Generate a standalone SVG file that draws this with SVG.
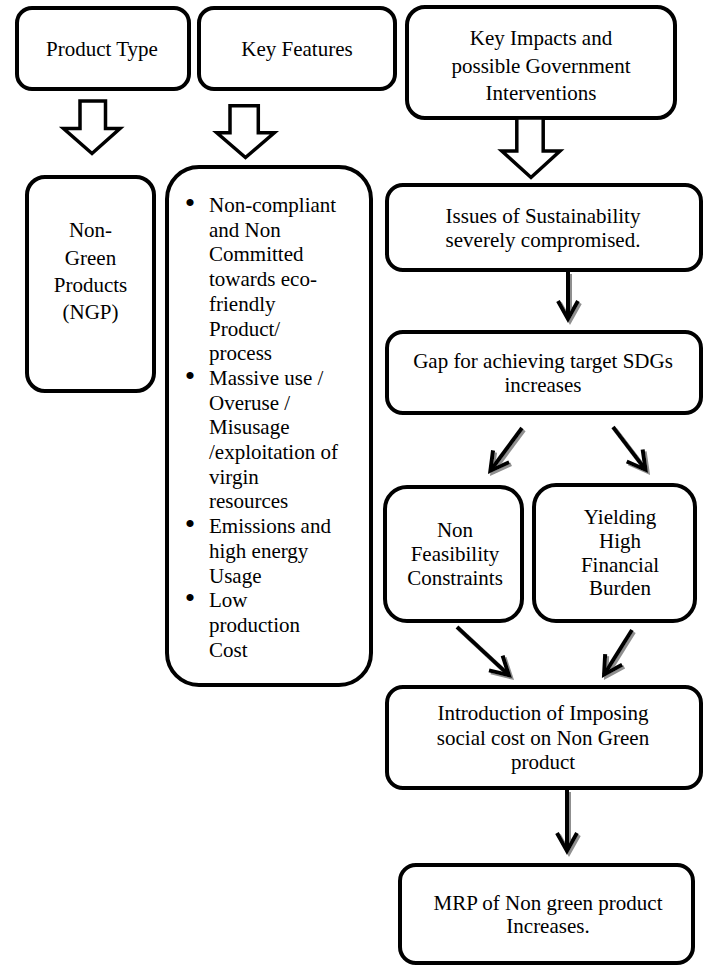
<svg xmlns="http://www.w3.org/2000/svg" width="711" height="966" viewBox="0 0 711 966">
  <style>
    .box { fill: #fff; stroke: #000; stroke-width: 4; }
    text { font-family: 'Liberation Serif', 'Times New Roman', serif; font-size: 21px; fill: #000; }
    .lbl { text-anchor: middle; }
    .dot { text-anchor: middle; font-size: 30px; }
    .block { fill: #fff; stroke: #000; stroke-width: 3.5; stroke-linejoin: miter; }
    .thin { fill: none; stroke: #000; stroke-width: 4; marker-end: url(#chev); }
  </style>
  <defs>
    <!-- open chevron head for the thin connectors -->
    <marker id="chev" markerUnits="userSpaceOnUse" viewBox="-30 -15 40 30" markerWidth="40" markerHeight="30" refX="0" refY="0" orient="auto" overflow="visible">
      <path d="M-18,-10 L0,0 L-18,10" fill="none" stroke="#000" stroke-width="4" stroke-linejoin="miter"/>
    </marker>
    <filter id="shadow" filterUnits="userSpaceOnUse" x="0" y="0" width="711" height="966">
      <feDropShadow dx="2" dy="2" stdDeviation="0.6" flood-color="#7a7a7a" flood-opacity="0.85"/>
    </filter>
  </defs>

  <rect width="711" height="966" fill="#fff"/>

  <!-- column headers -->
  <g id="product-type">
    <rect class="box" x="17" y="8" width="172" height="81" rx="15"/>
    <text class="lbl" x="102" y="56">Product Type</text>
  </g>
  <g id="key-features">
    <rect class="box" x="199" y="8" width="196" height="81" rx="15"/>
    <text class="lbl" x="297" y="56">Key Features</text>
  </g>
  <g id="key-impacts">
    <rect class="box" x="407" y="7" width="268" height="111" rx="18"/>
    <text class="lbl" x="541" y="45">Key Impacts and</text>
    <text class="lbl" x="541" y="72.5">possible Government</text>
    <text class="lbl" x="541" y="100">Interventions</text>
  </g>

  <!-- product type -->
  <g id="ngp">
    <rect class="box" x="27" y="177" width="127" height="214" rx="18"/>
    <text class="lbl" x="90.5" y="237">Non-</text>
    <text class="lbl" x="90.5" y="264.5">Green</text>
    <text class="lbl" x="90.5" y="292">Products</text>
    <text class="lbl" x="90.5" y="319">(NGP)</text>
  </g>

  <!-- bulleted feature list -->
  <g id="features">
    <rect class="box" x="167" y="167" width="204" height="518" rx="32"/>
    <text class="dot" x="190" y="213">•</text>
    <text x="209" y="212">Non-compliant</text>
    <text x="209" y="236.7">and Non</text>
    <text x="209" y="261.4">Committed</text>
    <text x="209" y="286.1">towards eco-</text>
    <text x="209" y="310.8">friendly</text>
    <text x="209" y="335.5">Product/</text>
    <text x="209" y="360.2">process</text>
    <text class="dot" x="190" y="385.9">•</text>
    <text x="209" y="384.9">Massive use /</text>
    <text x="209" y="409.6">Overuse /</text>
    <text x="209" y="434.3">Misusage</text>
    <text x="209" y="459">/exploitation of</text>
    <text x="209" y="483.7">virgin</text>
    <text x="209" y="508.4">resources</text>
    <text class="dot" x="190" y="534.1">•</text>
    <text x="209" y="533.1">Emissions and</text>
    <text x="209" y="557.8">high energy</text>
    <text x="209" y="582.5">Usage</text>
    <text class="dot" x="190" y="608.2">•</text>
    <text x="209" y="607.2">Low</text>
    <text x="209" y="631.9">production</text>
    <text x="209" y="656.6">Cost</text>
  </g>

  <!-- impact chain -->
  <g id="sustainability">
    <rect class="box" x="387" y="185" width="314" height="85" rx="16"/>
    <text class="lbl" x="543" y="223">Issues of Sustainability</text>
    <text class="lbl" x="543" y="247">severely compromised.</text>
  </g>
  <g id="sdg-gap">
    <rect class="box" x="387" y="332" width="314" height="81" rx="16"/>
    <text class="lbl" x="543" y="368">Gap for achieving target SDGs</text>
    <text class="lbl" x="543" y="392">increases</text>
  </g>
  <g id="non-feasibility">
    <rect class="box" x="385" y="487" width="137" height="134" rx="22"/>
    <text class="lbl" x="455" y="537">Non</text>
    <text class="lbl" x="455" y="561">Feasibility</text>
    <text class="lbl" x="455" y="585">Constraints</text>
  </g>
  <g id="financial-burden">
    <rect class="box" x="534" y="485" width="161" height="136" rx="22"/>
    <text class="lbl" x="620" y="524">Yielding</text>
    <text class="lbl" x="620" y="548">High</text>
    <text class="lbl" x="620" y="572">Financial</text>
    <text class="lbl" x="620" y="595">Burden</text>
  </g>
  <g id="social-cost">
    <rect class="box" x="387" y="687" width="314" height="101" rx="16"/>
    <text class="lbl" x="543" y="720">Introduction of Imposing</text>
    <text class="lbl" x="543" y="744.5">social cost on Non Green</text>
    <text class="lbl" x="543" y="769">product</text>
  </g>
  <g id="mrp">
    <rect class="box" x="400" y="865" width="293" height="98" rx="16"/>
    <text class="lbl" x="548" y="910">MRP of Non green product</text>
    <text class="lbl" x="548" y="933">Increases.</text>
  </g>

  <g id="connectors">
    <!-- hollow block arrows under the headers -->
    <polygon class="block" points="80,101 105.5,101 105.5,128.5 120,128.5 92,153.5 63.5,128.5 80,128.5"/>
    <polygon class="block" points="230,105.8 258.3,105.8 258.3,132.8 274.3,132.8 245.5,157.5 216.8,132.8 230,132.8"/>
    <polygon class="block" points="516.8,118 543.2,118 543.2,151 560,151 531,177.5 501.8,151 516.8,151"/>
    <!-- thin arrows with drop shadow -->
    <g filter="url(#shadow)">
      <path class="thin" d="M568,272 L568,319"/>
      <path class="thin" d="M522,428 L490.4,470.8"/>
      <path class="thin" d="M613,427 L645.6,469.8"/>
      <path class="thin" d="M457,627 L509,675.3"/>
      <path class="thin" d="M632,630 L604.1,674.6"/>
      <path class="thin" d="M567,790 L567,851"/>
    </g>
  </g>
</svg>
